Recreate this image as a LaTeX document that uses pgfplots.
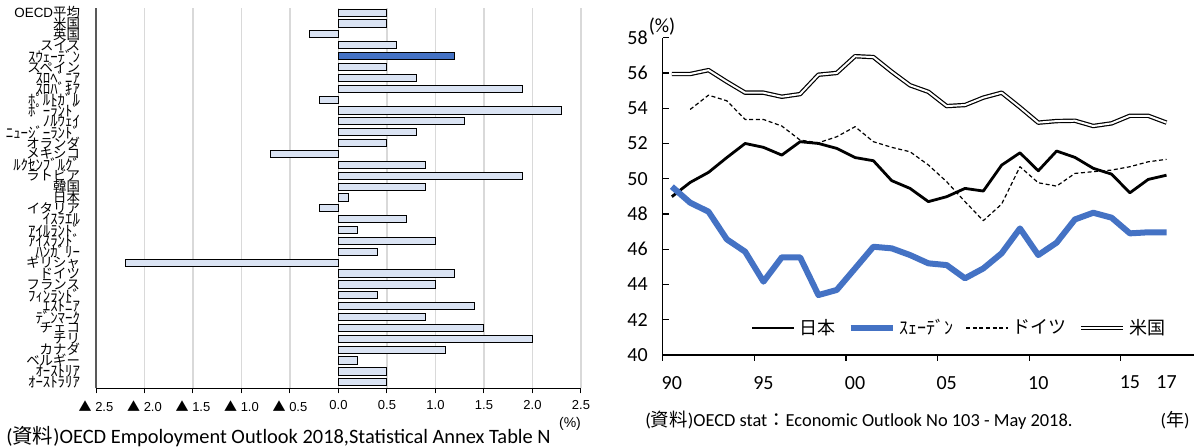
\documentclass[border=0pt]{standalone}
\usepackage{pgfplots}
\pgfplotsset{compat=1.18}
\usepackage{fontspec}
\setmainfont{Carlito}
\newfontfamily\jp{Noto Sans CJK JP}
\newfontfamily\arialf{Liberation Sans}
\definecolor{barlight}{HTML}{DAE3F3}
\definecolor{swblue}{HTML}{4472C4}
\definecolor{gridgray}{HTML}{D9D9D9}
\definecolor{axgray}{HTML}{595959}
% half-width katakana labels, set a little larger so they match the full-width ones
\newcommand{\hw}[1]{{\fontsize{7.4}{7.4}\selectfont #1}}

\begin{document}
\begin{tikzpicture}
% left: change by country (bars), index 0 = bottom row
\begin{axis}[
  at={(48pt,29.85pt)}, anchor=south west, scale only axis,
  width=242.5pt, height=190pt,
  xbar, bar width=3.6pt, bar shift=0pt,
  xmin=-2.5, xmax=2.5, ymin=-0.55, ymax=34.4,
  axis x line*=bottom, axis y line*=left,
  x axis line style={black, line width=0.6pt, -},
  y axis line style={axgray, line width=0.9pt, -},
  xtick={-2.5,-2,-1.5,-1,-0.5,0,0.5,1,1.5,2,2.5},
  xticklabels={{\jp ▲} 2.5,{\jp ▲} 2.0,{\jp ▲} 1.5,{\jp ▲} 1.0,{\jp ▲} 0.5,0.0,0.5,1.0,1.5,2.0,2.5},
  xtick align=outside, major tick length=2.5pt,
  ytick={0,...,34},
  yticklabels={\hw{ｵｰｽﾄﾗﾘｱ},\hw{ｵｰｽﾄﾘｱ},ベルギー,カナダ,チリ,チェコ,\hw{ﾃﾞﾝﾏｰｸ},\hw{ｴｽﾄﾆｱ},\hw{ﾌｨﾝﾗﾝﾄﾞ},フランス,ドイツ,ギリシャ,\hw{ﾊﾝｶﾞﾘｰ},\hw{ｱｲｽﾗﾝﾄﾞ},\hw{ｱｲﾙﾗﾝﾄﾞ},\hw{ｲｽﾗｴﾙ},イタリア,日本,韓国,ラトビア,\hw{ﾙｸｾﾝﾌﾞﾙｸﾞ},メキシコ,オランダ,\hw{ﾆｭｰｼﾞｰﾗﾝﾄﾞ},\hw{ﾉﾙｳｪｲ},\hw{ﾎﾟｰﾗﾝﾄﾞ},\hw{ﾎﾟﾙﾄｶﾞﾙ},\hw{ｽﾛﾊﾞｷｱ},\hw{ｽﾛﾍﾞﾆｱ},スペイン,\hw{ｽｳｪｰﾃﾞﾝ},スイス,英国,米国,{\arialf OECD}平均},
  ytick style={draw=none},
  x tick style={black, line width=0.5pt},
  xmajorgrids, grid style={gridgray, line width=0.6pt},
  xticklabel style={font=\arialf\fontsize{6.5}{6.5}\selectfont},
  yticklabel style={font=\jp\fontsize{6.7}{6.7}\selectfont, xshift=-2pt},
]
\addplot[fill=barlight, draw=black, line width=0.5pt] coordinates {
  (0.5,0) (0.5,1) (0.2,2) (1.1,3) (2.0,4) (1.5,5) (0.9,6) (1.4,7) (0.4,8)
  (1.0,9) (1.2,10) (-2.2,11) (0.4,12) (1.0,13) (0.2,14) (0.7,15) (-0.2,16)
  (0.1,17) (0.9,18) (1.9,19) (0.9,20) (-0.7,21) (0.5,22) (0.8,23) (1.3,24)
  (2.3,25) (-0.2,26) (1.9,27) (0.8,28) (0.5,29) (0.6,31) (-0.3,32) (0.5,33) (0.5,34)
};
\addplot[fill=swblue, draw=black, line width=0.5pt] coordinates {(1.2,30)};
\end{axis}

% right: employment rate, 1990-2017
\begin{axis}[
  at={(331.35pt,46.5pt)}, anchor=south west, scale only axis,
  width=265.65pt, height=158.65pt,
  xmin=1989.5, xmax=2018.5, ymin=40, ymax=58,
  axis x line=bottom, axis y line=left,
  axis line style={-, black, line width=0.7pt},
  ytick={40,42,...,58}, ytick align=inside,
  xtick={1989.5,1994.5,1999.5,2004.5,2009.5,2014.5}, xticklabels={},
  xtick align=outside, major tick length=3pt,
  extra x ticks={1990,1995,2000,2005,2010,2015,2017},
  extra x tick labels={90,95,00,05,10,15,17},
  extra x tick style={major tick length=0pt},
  xticklabel style={yshift=-7pt},
  tick label style={font=\fontsize{10}{10}\selectfont},
  /pgf/number format/assume math mode=true,
  yticklabel style={xshift=-4pt},
  tick style={black, line width=0.6pt},
  legend columns=-1,
  legend style={at={(0.165,0.085)}, anchor=west, draw=none, fill=none,
    inner sep=0pt, font=\jp\fontsize{9}{9}\selectfont,
    /tikz/every even column/.append style={column sep=4pt}},
  legend image code/.code={\draw[#1] (0pt,0pt) -- (21pt,0pt);},
  line join=round,
]
\addplot[black, line width=1.4pt] coordinates {
  (1990,48.98) (1991,49.79) (1992,50.36) (1993,51.2) (1994,52.0) (1995,51.78)
  (1996,51.34) (1997,52.1) (1998,52.0) (1999,51.72) (2000,51.2) (2001,51.02)
  (2002,49.89) (2003,49.45) (2004,48.7) (2005,48.98) (2006,49.45) (2007,49.3)
  (2008,50.77) (2009,51.47) (2010,50.45) (2011,51.57) (2012,51.21) (2013,50.59)
  (2014,50.26) (2015,49.2) (2016,49.96) (2017,50.2)
};
\addlegendentry{日本}
\addplot[swblue, line width=3pt] coordinates {
  (1990,49.55) (1991,48.64) (1992,48.13) (1993,46.56) (1994,45.86) (1995,44.16)
  (1996,45.54) (1997,45.54) (1998,43.4) (1999,43.69) (2000,44.91) (2001,46.14)
  (2002,46.05) (2003,45.67) (2004,45.2) (2005,45.1) (2006,44.35) (2007,44.91)
  (2008,45.77) (2009,47.18) (2010,45.67) (2011,46.37) (2012,47.69) (2013,48.07)
  (2014,47.79) (2015,46.9) (2016,46.96) (2017,46.96)
};
\addlegendentry{ｽｪｰﾃﾞﾝ}
\addplot[black, line width=0.6pt, dash pattern=on 2pt off 1.3pt] coordinates {
  (1991,53.93) (1992,54.74) (1993,54.42) (1994,53.36) (1995,53.36)
  (1996,52.99) (1997,52.19) (1998,52.04) (1999,52.38) (2000,52.95) (2001,52.1)
  (2002,51.78) (2003,51.53) (2004,50.78) (2005,49.83) (2006,48.7) (2007,47.62)
  (2008,48.56) (2009,50.68) (2010,49.77) (2011,49.58) (2012,50.3) (2013,50.4)
  (2014,50.49) (2015,50.68) (2016,50.96) (2017,51.1)
};
\addlegendentry{ドイツ}
\addplot[black, line width=0.6pt, double=white, double distance=1pt] coordinates {
  (1990,55.94) (1991,55.94) (1992,56.16) (1993,55.5) (1994,54.88) (1995,54.88)
  (1996,54.65) (1997,54.8) (1998,55.9) (1999,56.0) (2000,56.95) (2001,56.9)
  (2002,56.07) (2003,55.3) (2004,54.93) (2005,54.12) (2006,54.18) (2007,54.6)
  (2008,54.88) (2009,54.05) (2010,53.18) (2011,53.27) (2012,53.29) (2013,52.99)
  (2014,53.14) (2015,53.57) (2016,53.57) (2017,53.18)
};
\addlegendentry{米国}
\end{axis}

\node[font=\fontsize{10}{10}\selectfont] at (331pt,210.5pt) {(\%)};
\node[font=\fontsize{9.2}{9.2}\selectfont, anchor=west, inner sep=0pt] at (322.5pt,14pt)
  {({\jp 資料})OECD stat{\jp ：}Economic Outlook No 103 - May 2018.};
\node[font=\fontsize{9}{9}\selectfont] at (587.5pt,14pt) {({\jp 年})};
\node[font=\arialf\fontsize{7}{7}\selectfont] at (285pt,12pt) {(\%)};
\node[font=\fontsize{10.2}{10.2}\selectfont, anchor=west, inner sep=0pt] at (3pt,5.8pt)
  {({\jp 資料})OECD Empoloyment Outlook 2018,Statistical Annex Table N};
\pgfresetboundingbox
\useasboundingbox (0,0) rectangle (597pt,224pt);
\end{tikzpicture}
\end{document}
